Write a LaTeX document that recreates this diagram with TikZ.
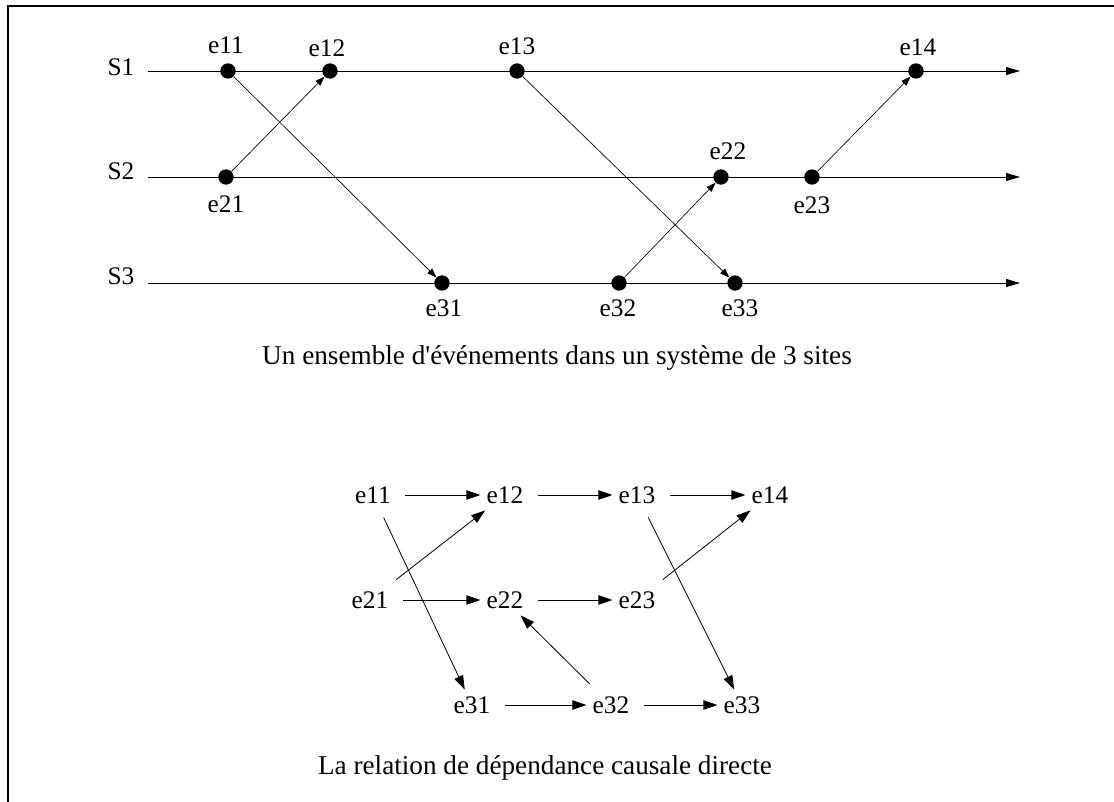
\documentclass[tikz,border=0pt]{standalone}
\usepackage{fontspec}
\setmainfont[Ligatures=TeXOff]{Liberation Serif}
\usetikzlibrary{arrows.meta,positioning}
\tikzset{
  site/.style={line width=0.6pt,-{Triangle[length=10.5pt,width=6pt]}},
  evt/.style={circle,fill,inner sep=0pt,minimum size=11.5pt},
  msg/.style={line width=0.5pt,-{Triangle[length=7pt,width=5pt]}},
  lbl/.style={inner sep=0pt},
  caption/.style={inner sep=0pt,font=\fontsize{20.4}{24}\selectfont},
  ev/.style={inner xsep=4.5pt,inner ysep=5pt},
  dep/.style={line width=0.6pt,-{Triangle[length=10.5pt,width=7pt]},shorten <=6pt}
}
\begin{document}
\begin{tikzpicture}[x=0.75pt,y=0.75pt,yscale=-1,xscale=1,font=\fontsize{19}{23}\selectfont]
    \useasboundingbox (0,0) rectangle (1114,802);
    % frame
    \draw [line width=1.8pt] (8,802) -- (8,6) -- (1114,6);

    % sites
    \node [lbl] (S1) at (121,67) {S1};
    \node [lbl] (S2) at (121,171) {S2};
    \node [lbl] (S3) at (121,276) {S3};
    \coordinate (s1a) at (148,71);  \coordinate (s1b) at (1020,71);
    \coordinate (s2a) at (148,177); \coordinate (s2b) at (1020,177);
    \coordinate (s3a) at (148,283); \coordinate (s3b) at (1020,283);
    \draw [site] (s1a) -- (s1b);
    \draw [site] (s2a) -- (s2b);
    \draw [site] (s3a) -- (s3b);

    % events
    \node [evt] (d11) at (228,71) {};
    \node [evt] (d12) at (330,71) {};
    \node [evt] (d13) at (517,71) {};
    \node [evt] (d14) at (916,71) {};
    \node [evt] (d21) at (226,177) {};
    \node [evt] (d22) at (721,177) {};
    \node [evt] (d23) at (812,177) {};
    \node [evt] (d31) at (442,283) {};
    \node [evt] (d32) at (619,283) {};
    \node [evt] (d33) at (735,283) {};

    % event labels
    \node [lbl] (l11) at (226,45) {e11};
    \node [lbl] (l12) at (327,48) {e12};
    \node [lbl] (l13) at (517,46) {e13};
    \node [lbl] (l14) at (918,47) {e14};
    \node [lbl] (l21) at (226,204) {e21};
    \node [lbl] (l22) at (728,151) {e22};
    \node [lbl] (l23) at (812,205) {e23};
    \node [lbl] (l31) at (444,308) {e31};
    \node [lbl] (l32) at (618,308) {e32};
    \node [lbl] (l33) at (740,308) {e33};

    % messages
    \draw [msg] (d11) -- (d31);
    \draw [msg] (d21) -- (d12);
    \draw [msg] (d13) -- (d33);
    \draw [msg] (d32) -- (d22);
    \draw [msg] (d23) -- (d14);

    \node [caption] (cap1) at (557,358) {Un ensemble d'événements dans un système de 3 sites};

    % direct causal dependency
    \node [ev] (e11) at (373,495) {e11};
    \node [ev] (e12) at (505,495) {e12};
    \node [ev] (e13) at (637,495) {e13};
    \node [ev] (e14) at (770,495) {e14};
    \node [ev] (e21) at (370,600) {e21};
    \node [ev] (e22) at (505,600) {e22};
    \node [ev] (e23) at (637,600) {e23};
    \node [ev] (e31) at (472,705) {e31};
    \node [ev] (e32) at (611,705) {e32};
    \node [ev] (e33) at (742,705) {e33};

    \draw [dep] (e11) -- (e12);
    \draw [dep] (e12) -- (e13);
    \draw [dep] (e13) -- (e14);
    \draw [dep] (e21) -- (e22);
    \draw [dep] (e22) -- (e23);
    \draw [dep] (e31) -- (e32);
    \draw [dep] (e32) -- (e33);
    \draw [dep] (e21) -- (e12);
    \draw [dep] (e11) -- (e31);
    \draw [dep] (e13) -- (e33);
    \draw [dep] (e23) -- (e14);
    \draw [dep] (e32) -- (e22);

    \node [caption] (cap2) at (545,768) {La relation de dépendance causale directe};
\end{tikzpicture}
\end{document}
